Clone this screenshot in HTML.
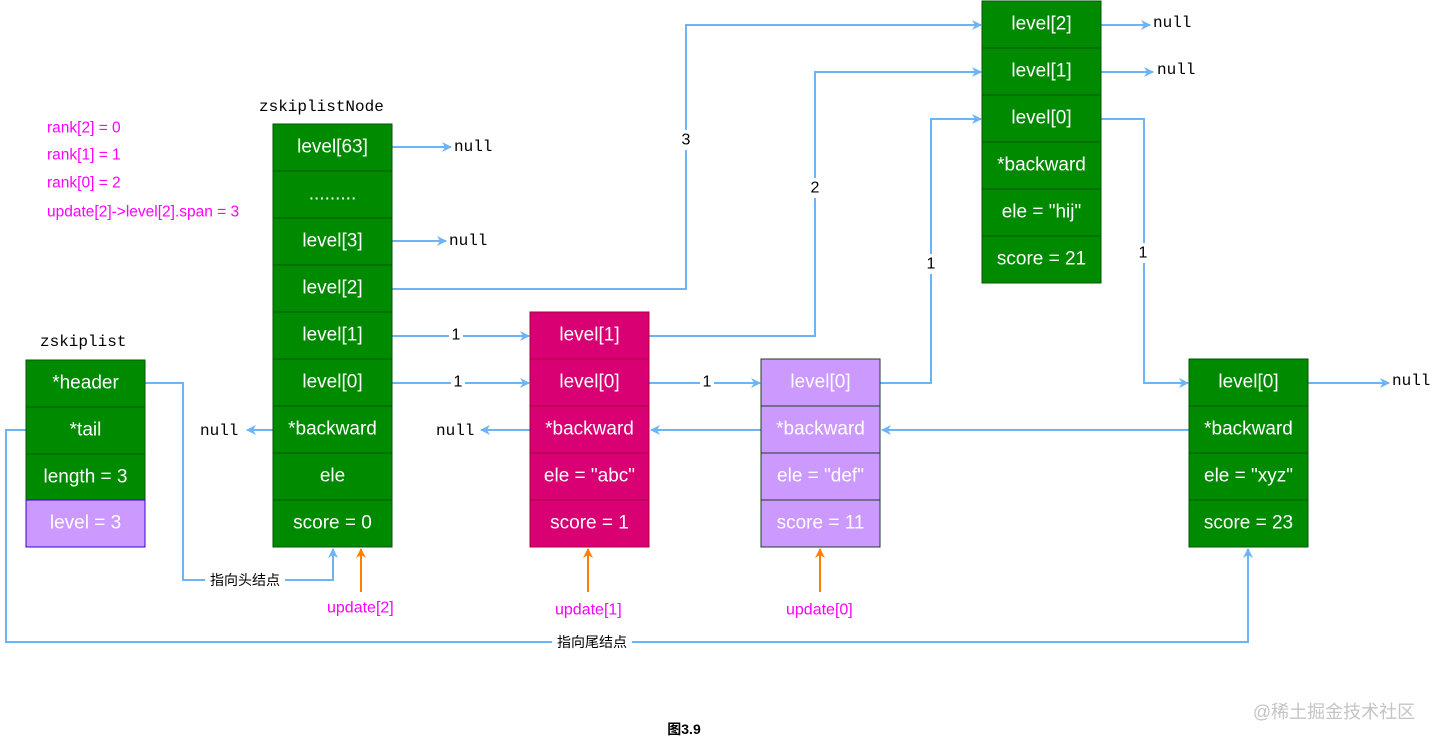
<!DOCTYPE html>
<html><head><meta charset="utf-8"><style>
html,body{margin:0;padding:0;background:#fff;}
svg{display:block;}
.c{font-family:"Liberation Sans",sans-serif;font-size:19px;fill:#fff;text-anchor:middle;dominant-baseline:central;}
.m{font-family:"Liberation Mono",monospace;font-size:16px;fill:#000;dominant-baseline:central;}
.l{font-family:"Liberation Sans",sans-serif;font-size:16px;fill:#000;text-anchor:middle;dominant-baseline:central;}
.p{font-family:"Liberation Sans",sans-serif;font-size:15.5px;fill:#ff00ff;dominant-baseline:central;}
.q{font-family:"Liberation Sans",sans-serif;font-size:16px;fill:#ff00ff;dominant-baseline:central;}
.z{font-family:"Liberation Sans","Noto Sans CJK SC",sans-serif;font-size:14px;fill:#000;text-anchor:middle;dominant-baseline:central;}
.g rect{fill:#008a00;stroke:#005700;stroke-width:1;}
.r rect{fill:#d80073;stroke:#a50040;stroke-width:1;}
.v rect{fill:#cc99ff;stroke:#1e3d2a;stroke-width:1;}
.ln{fill:none;stroke:#6cb4f5;stroke-width:2;}
.or{fill:none;stroke:#ff8000;stroke-width:2;}
</style></head><body>
<svg width="1435" height="744" viewBox="0 0 1435 744" xmlns="http://www.w3.org/2000/svg">
<defs>
<marker id="a" markerWidth="10" markerHeight="10" refX="9" refY="5" orient="auto" markerUnits="userSpaceOnUse"><path d="M0,0 L10,5 L0,10 L3,5 Z" fill="#6cb4f5"/></marker>
<marker id="o" markerWidth="10" markerHeight="10" refX="9" refY="5" orient="auto" markerUnits="userSpaceOnUse"><path d="M0,0 L10,5 L0,10 L3,5 Z" fill="#ff8000"/></marker>
</defs>

<text class="p" x="47" y="128">rank[2] = 0</text>
<text class="p" x="47" y="155">rank[1] = 1</text>
<text class="p" x="47" y="183">rank[0] = 2</text>
<text class="p" x="47" y="212">update[2]-&gt;level[2].span = 3</text>

<text class="m" x="259" y="107">zskiplistNode</text>
<text class="m" x="40" y="342">zskiplist</text>

<path class="ln" d="M145,383 H183 V580 H333 V549" marker-end="url(#a)"/>
<path class="ln" d="M26,430 H6 V642 H1248 V549" marker-end="url(#a)"/>
<path class="ln" d="M392,147 H451" marker-end="url(#a)"/>
<path class="ln" d="M392,241 H446" marker-end="url(#a)"/>
<path class="ln" d="M392,289 H686 V25 H981" marker-end="url(#a)"/>
<path class="ln" d="M392,336 H529" marker-end="url(#a)"/>
<path class="ln" d="M392,383 H529" marker-end="url(#a)"/>
<path class="ln" d="M273,430 H247" marker-end="url(#a)"/>
<path class="ln" d="M649,336 H815 V72 H981" marker-end="url(#a)"/>
<path class="ln" d="M649,383 H760" marker-end="url(#a)"/>
<path class="ln" d="M530,430 H481" marker-end="url(#a)"/>
<path class="ln" d="M761,430 H651" marker-end="url(#a)"/>
<path class="ln" d="M880,383 H931 V119 H981" marker-end="url(#a)"/>
<path class="ln" d="M1189,430 H882" marker-end="url(#a)"/>
<path class="ln" d="M1101,25 H1150" marker-end="url(#a)"/>
<path class="ln" d="M1101,72 H1153" marker-end="url(#a)"/>
<path class="ln" d="M1101,119 H1144 V383 H1188" marker-end="url(#a)"/>
<path class="ln" d="M1308,383 H1389" marker-end="url(#a)"/>
<path class="or" d="M361,592 V549" marker-end="url(#o)"/>
<path class="or" d="M588,592 V549" marker-end="url(#o)"/>
<path class="or" d="M820,592 V549" marker-end="url(#o)"/>

<rect x="205" y="571" width="80" height="18" fill="#fff"/>
<text class="z" x="245" y="580">指向头结点</text>
<rect x="552" y="633" width="80" height="18" fill="#fff"/>
<text class="z" x="592" y="642">指向尾结点</text>
<rect x="678" y="130" width="16" height="20" fill="#fff"/><text class="l" x="686" y="140">3</text>
<rect x="807" y="178" width="16" height="20" fill="#fff"/><text class="l" x="815" y="188">2</text>
<rect x="923" y="254" width="16" height="20" fill="#fff"/><text class="l" x="931" y="264">1</text>
<rect x="1136" y="243" width="16" height="20" fill="#fff"/><text class="l" x="1143" y="253">1</text>
<rect x="449" y="326" width="14" height="20" fill="#fff"/><text class="l" x="456" y="335">1</text>
<rect x="451" y="373" width="14" height="20" fill="#fff"/><text class="l" x="458" y="382">1</text>
<rect x="700" y="373" width="14" height="20" fill="#fff"/><text class="l" x="707" y="382">1</text>

<text class="m" x="454" y="147">null</text>
<text class="m" x="449" y="241">null</text>
<text class="m" x="200" y="431">null</text>
<text class="m" x="436" y="431">null</text>
<text class="m" x="1153" y="23">null</text>
<text class="m" x="1157" y="70">null</text>
<text class="m" x="1392" y="381">null</text>

<text class="q" x="327" y="608">update[2]</text>
<text class="q" x="555" y="610">update[1]</text>
<text class="q" x="786" y="610">update[0]</text>

<g class="g">
<rect x="26" y="360" width="119" height="47"/><text class="c" x="85.5" y="383">*header</text>
<rect x="26" y="407" width="119" height="47"/><text class="c" x="85.5" y="430">*tail</text>
<rect x="26" y="454" width="119" height="46"/><text class="c" x="85.5" y="477">length = 3</text>
</g>
<rect x="26" y="500" width="119" height="47" fill="#cc99ff" stroke="#3700cc"/><text class="c" x="85.5" y="523">level = 3</text>

<g class="g">
<rect x="273" y="124" width="119" height="47"/><text class="c" x="332.5" y="147">level[63]</text>
<rect x="273" y="171" width="119" height="47"/><text class="c" x="332.5" y="194">.........</text>
<rect x="273" y="218" width="119" height="47"/><text class="c" x="332.5" y="241">level[3]</text>
<rect x="273" y="265" width="119" height="47"/><text class="c" x="332.5" y="288">level[2]</text>
<rect x="273" y="312" width="119" height="47"/><text class="c" x="332.5" y="335">level[1]</text>
<rect x="273" y="359" width="119" height="47"/><text class="c" x="332.5" y="382">level[0]</text>
<rect x="273" y="406" width="119" height="47"/><text class="c" x="332.5" y="429">*backward</text>
<rect x="273" y="453" width="119" height="47"/><text class="c" x="332.5" y="476">ele</text>
<rect x="273" y="500" width="119" height="47"/><text class="c" x="332.5" y="523">score = 0</text>
</g>

<g class="r">
<rect x="530" y="312" width="119" height="47"/><text class="c" x="589.5" y="335">level[1]</text>
<rect x="530" y="359" width="119" height="47"/><text class="c" x="589.5" y="382">level[0]</text>
<rect x="530" y="406" width="119" height="47"/><text class="c" x="589.5" y="429">*backward</text>
<rect x="530" y="453" width="119" height="47"/><text class="c" x="589.5" y="476">ele = "abc"</text>
<rect x="530" y="500" width="119" height="47"/><text class="c" x="589.5" y="523">score = 1</text>
</g>

<g class="v">
<rect x="761" y="359" width="119" height="47"/><text class="c" x="820.5" y="382">level[0]</text>
<rect x="761" y="406" width="119" height="47"/><text class="c" x="820.5" y="429">*backward</text>
<rect x="761" y="453" width="119" height="47"/><text class="c" x="820.5" y="476">ele = "def"</text>
<rect x="761" y="500" width="119" height="47"/><text class="c" x="820.5" y="523">score = 11</text>
</g>

<g class="g">
<rect x="982" y="1" width="119" height="47"/><text class="c" x="1041.5" y="24">level[2]</text>
<rect x="982" y="48" width="119" height="47"/><text class="c" x="1041.5" y="71">level[1]</text>
<rect x="982" y="95" width="119" height="47"/><text class="c" x="1041.5" y="118">level[0]</text>
<rect x="982" y="142" width="119" height="47"/><text class="c" x="1041.5" y="165">*backward</text>
<rect x="982" y="189" width="119" height="47"/><text class="c" x="1041.5" y="212">ele = "hij"</text>
<rect x="982" y="236" width="119" height="47"/><text class="c" x="1041.5" y="259">score = 21</text>
</g>

<g class="g">
<rect x="1189" y="359" width="119" height="47"/><text class="c" x="1248.5" y="382">level[0]</text>
<rect x="1189" y="406" width="119" height="47"/><text class="c" x="1248.5" y="429">*backward</text>
<rect x="1189" y="453" width="119" height="47"/><text class="c" x="1248.5" y="476">ele = "xyz"</text>
<rect x="1189" y="500" width="119" height="47"/><text class="c" x="1248.5" y="523">score = 23</text>
</g>

<text x="684" y="729" style="font-family:'Liberation Sans','Noto Sans CJK SC',sans-serif;font-size:14px;font-weight:bold;text-anchor:middle;dominant-baseline:central;">图3.9</text>
<text x="1334" y="712" style="font-family:'Liberation Sans','Noto Sans CJK SC',sans-serif;font-size:18px;fill:#c4c4c4;text-anchor:middle;dominant-baseline:central;">@稀土掘金技术社区</text>
</svg>
</body></html>
